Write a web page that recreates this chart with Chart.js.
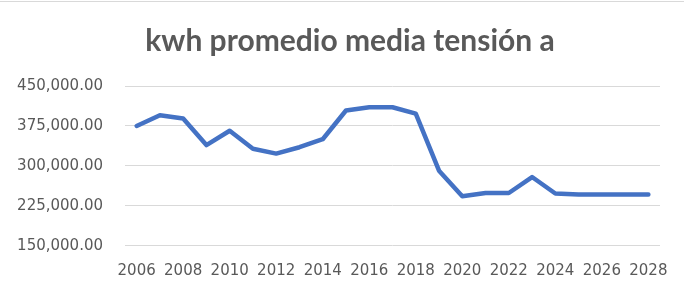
<!DOCTYPE html>
<html>
<head>
<meta charset="utf-8">
<script src="https://cdn.jsdelivr.net/npm/chart.js@4/dist/chart.umd.min.js"></script>
<style>
html,body{margin:0;padding:0;background:#fff;}
#wrap{position:relative;width:684px;height:291px;}
#topline{position:absolute;left:0;top:1px;width:684px;height:1px;background:#d9d9d9;}
</style>
</head>
<body>
<div id="wrap">
<canvas id="c" width="684" height="291"></canvas>
<div id="topline"></div>
</div>
<script>
const chartTitle = "kwh promedio media tensión a";
const years = ["2006","2007","2008","2009","2010","2011","2012","2013","2014","2015","2016","2017","2018","2019","2020","2021","2022","2023","2024","2025","2026","2027","2028"];
const kwhValues = [375000,395000,389000,339000,366000,332000,323000,335000,350000,404000,410000,410000,398000,291000,243000,249000,249000,279000,248000,246000,246000,246000,246000];
const yMin = 150000, yMax = 450000, yStep = 75000;

const tickColor = "#595959";
const shiftTitle = {
  id: "shiftTitle",
  afterLayout(chart) {
    if (chart.titleBlock) { chart.titleBlock.left = 40; chart.titleBlock.right = 660; }
  }
};
new Chart(document.getElementById("c"), {
  type: "line",
  data: {
    labels: years,
    datasets: [{
      data: kwhValues,
      borderColor: "#4472C4",
      borderWidth: 4.5,
      pointRadius: 0,
      tension: 0,
      fill: false,
      borderCapStyle: "round",
      borderJoinStyle: "round"
    }]
  },
  plugins: [shiftTitle],
  options: {
    responsive: false,
    animation: false,
    layout: { padding: { left: 0, right: 24, top: 0, bottom: 0 } },
    plugins: {
      legend: { display: false },
      tooltip: { enabled: false },
      title: {
        display: true,
        text: chartTitle,
        color: tickColor,
        font: { family: "Lato", size: 30, weight: "bold" },
        padding: { top: 23, bottom: 27 }
      }
    },
    scales: {
      x: {
        type: "category",
        offset: true,
        grid: { display: false, drawTicks: false },
        border: { display: false },
        ticks: {
          autoSkip: false,
          maxRotation: 0,
          padding: 16,
          color: tickColor,
          font: { family: "DejaVu Sans", size: 15 },
          callback: function(v, i) { return i % 2 === 0 ? years[i] : ""; }
        },
        afterFit: function(s) { s.height = 45.3; }
      },
      y: {
        min: yMin, max: yMax,
        grid: { color: "#d9d9d9", lineWidth: 1, drawTicks: false },
        border: { display: false },
        ticks: {
          stepSize: yStep,
          padding: 22,
          color: tickColor,
          font: { family: "DejaVu Sans", size: 15 },
          callback: function(v) { return v.toLocaleString("en-US", { minimumFractionDigits: 2, maximumFractionDigits: 2 }); }
        },
        afterFit: function(s) { s.width = 125; }
      }
    }
  }
});
</script>
</body>
</html>
